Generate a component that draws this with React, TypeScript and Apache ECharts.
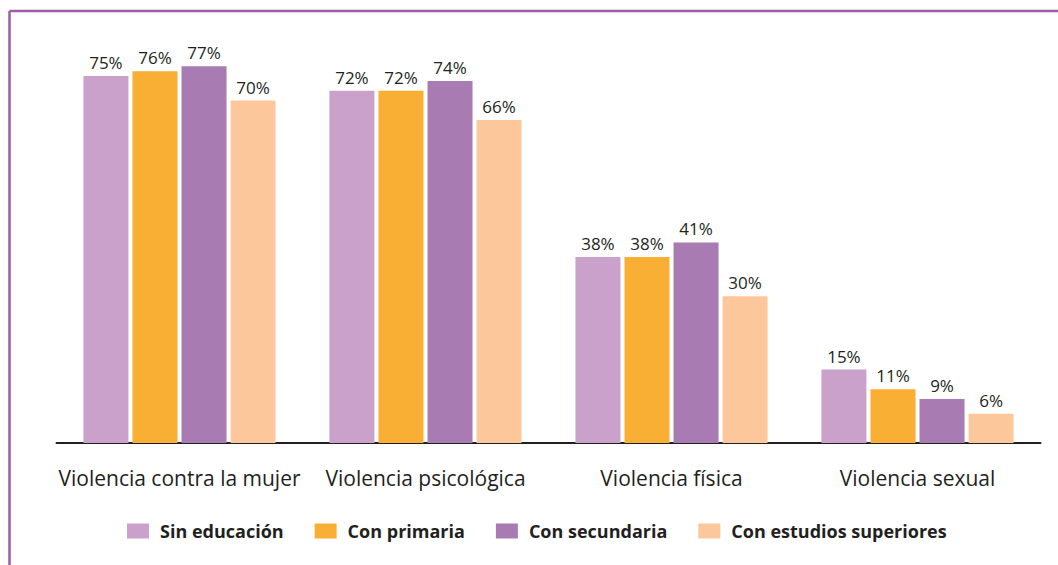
import React, { useEffect, useRef } from "react";
import * as echarts from "echarts";

const categories = [
  "Violencia contra la mujer",
  "Violencia psicológica",
  "Violencia física",
  "Violencia sexual",
];
const seriesNames = [
  "Sin educación",
  "Con primaria",
  "Con secundaria",
  "Con estudios superiores",
];
const sinEducacion = [75, 72, 38, 15];
const conPrimaria = [76, 72, 38, 11];
const conSecundaria = [77, 74, 41, 9];
const conSuperiores = [70, 66, 30, 6];
const colors = ["#c9a1cb", "#f9ae34", "#a97bb3", "#fcc89b"];

const FONT = "'Open Sans', 'Noto Sans', sans-serif";
const TEXT = "#231f20";

export default function App() {
  const ref = useRef<HTMLDivElement>(null);
  useEffect(() => {
    if (!ref.current) return;
    const chart = echarts.init(ref.current, null, { renderer: "svg" });
    const values = [sinEducacion, conPrimaria, conSecundaria, conSuperiores];
    chart.setOption({
      animation: false,
      backgroundColor: "#ffffff",
      textStyle: { fontFamily: FONT },
      graphic: [
        {
          type: "line",
          shape: { x1: 9.5, y1: 11, x2: 1058, y2: 11 },
          style: { stroke: "#9c5ca6", lineWidth: 2.5 },
        },
        {
          type: "line",
          shape: { x1: 9.5, y1: 11, x2: 9.5, y2: 565 },
          style: { stroke: "#9c5ca6", lineWidth: 2.5 },
        },
      ],
      legend: {
        top: 522,
        left: 127,
        padding: 0,
        itemWidth: 22,
        itemHeight: 15,
        itemGap: 31,
        icon: "rect",
        textStyle: {
          fontFamily: FONT,
          fontWeight: "bold",
          fontSize: 18,
          color: TEXT,
          padding: [0, 0, 0, 6],
        },
        data: seriesNames,
      },
      grid: {
        left: 56.5,
        width: 984,
        top: 51.6,
        height: 391.4,
        containLabel: false,
      },
      xAxis: {
        type: "category",
        data: categories,
        axisLine: { lineStyle: { color: TEXT, width: 2 } },
        axisTick: { show: false },
        axisLabel: {
          fontFamily: FONT,
          fontSize: 21,
          color: TEXT,
          margin: 24,
          interval: 0,
        },
      },
      yAxis: {
        type: "value",
        min: 0,
        max: 80,
        show: false,
        splitLine: { show: false },
      },
      series: seriesNames.map((name, i) => ({
        name,
        type: "bar",
        data: values[i],
        barWidth: 45,
        barGap: "9%",
        itemStyle: { color: colors[i] },
        label: {
          show: true,
          position: "top",
          distance: 5,
          formatter: "{c}%",
          fontFamily: FONT,
          fontSize: 17,
          color: TEXT,
        },
      })),
    });
    return () => chart.dispose();
  }, []);
  return (
    <div
      ref={ref}
      style={{ position: "fixed", left: 0, top: 0, width: 1058, height: 565 }}
    />
  );
}
